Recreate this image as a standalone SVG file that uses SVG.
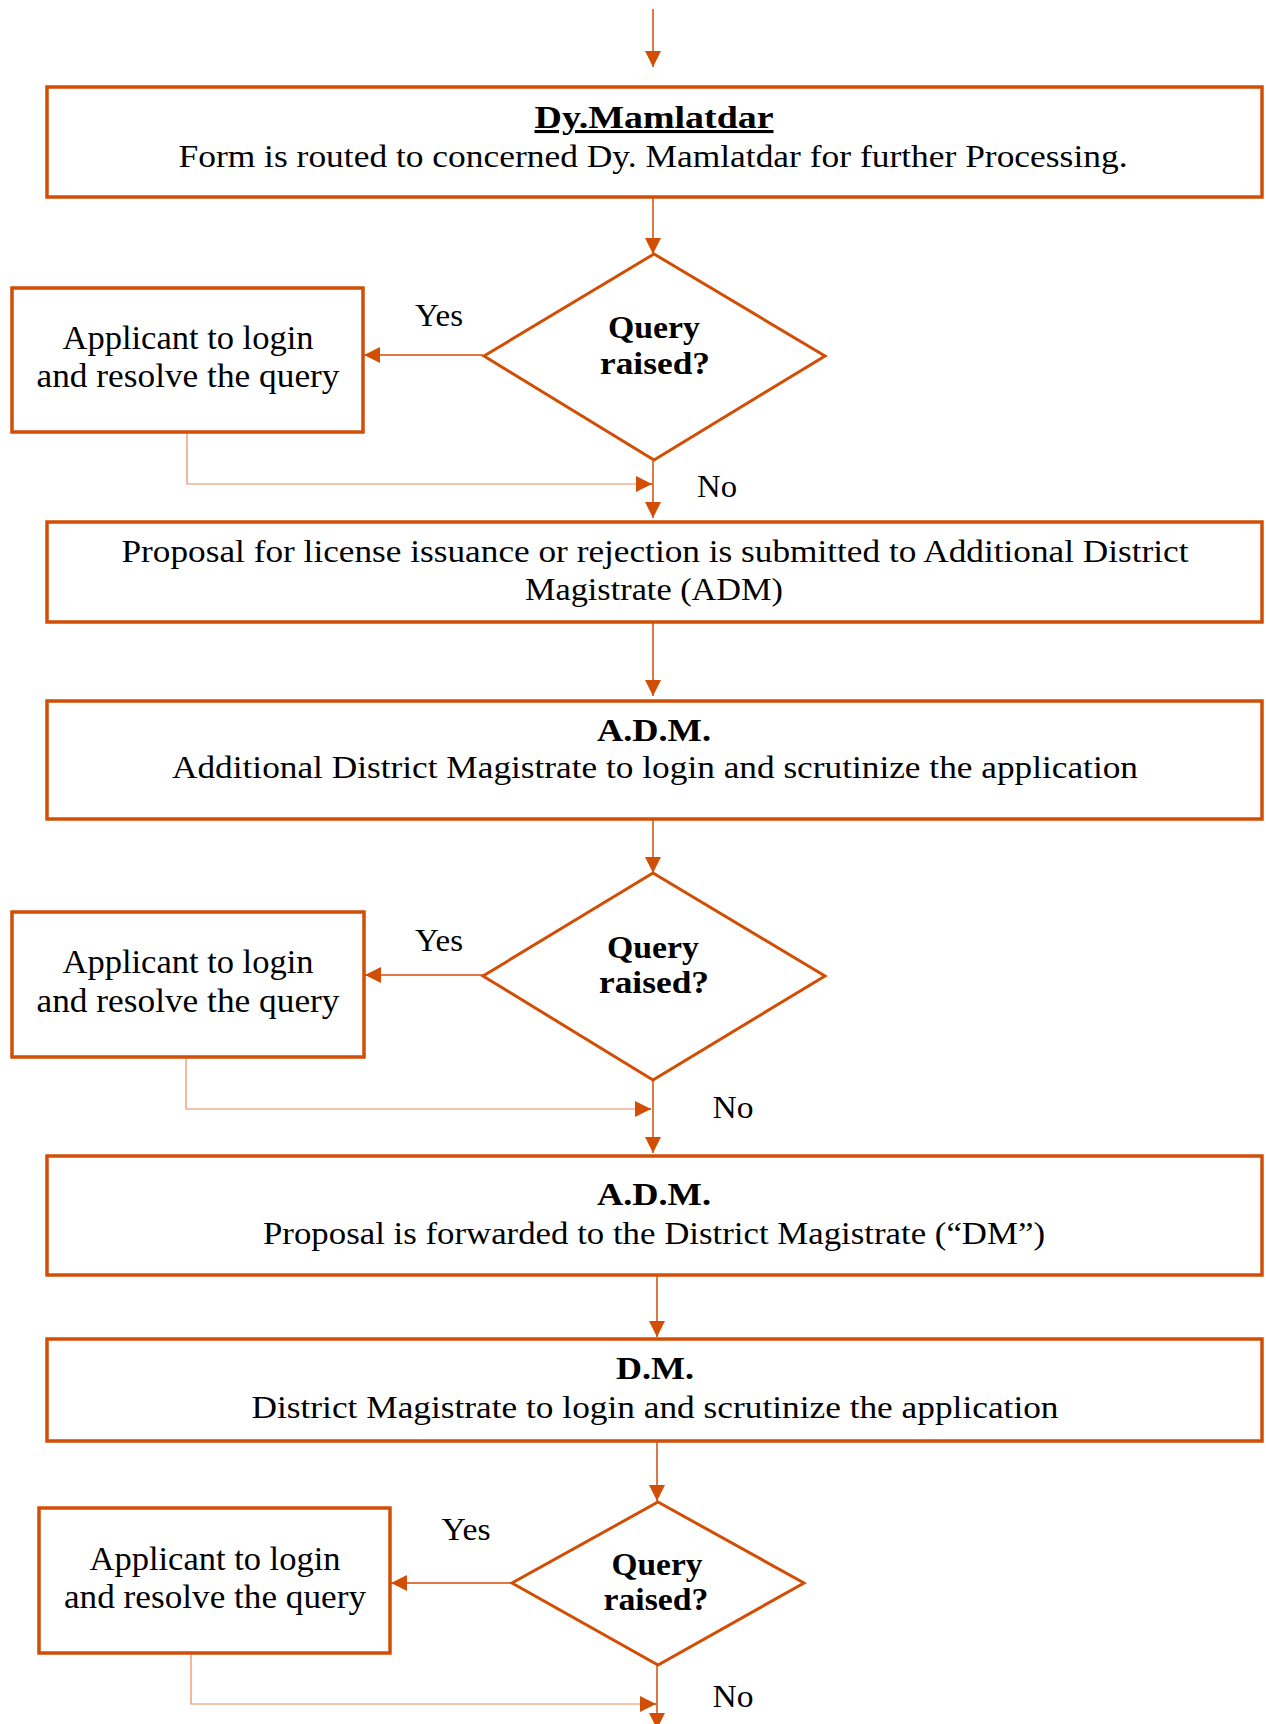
<svg xmlns="http://www.w3.org/2000/svg" width="1266" height="1724" viewBox="0 0 1266 1724">
<style>
.box{fill:#fff;stroke:#D24E04;stroke-width:3.5}
.dia{fill:#fff;stroke:#D24E04;stroke-width:3}
.ln{fill:none;stroke:#D24E04;stroke-width:1.5}
.fb{fill:none;stroke:#EC8A5E;stroke-width:1.2}
text{font-family:"Liberation Serif","DejaVu Serif",serif;fill:#000;text-anchor:middle}
.t{font-size:32px}
.b{font-size:31px;font-weight:bold}
.a{font-size:33px}
</style>
<defs>
<marker id="ah" markerUnits="userSpaceOnUse" markerWidth="16" markerHeight="16" viewBox="0 0 16 16" refX="16" refY="8" orient="auto">
<path d="M0,0 L16,8 L0,16 Z" fill="#D24E04"/>
</marker>
</defs>
<rect width="1266" height="1724" fill="#fff"/>
<g id="connectors">
<line class="ln" x1="653" y1="9" x2="653" y2="67" marker-end="url(#ah)"/>
<line class="ln" x1="653" y1="197" x2="653" y2="254"  marker-end="url(#ah)"/>
<line class="ln" x1="483" y1="355" x2="364" y2="355" marker-end="url(#ah)"/>
<polyline class="fb" points="187,432 187,484 652,484"/>
<line class="ln" x1="636" y1="484" x2="652" y2="484" marker-end="url(#ah)"/>
<line class="ln" x1="653" y1="461" x2="653" y2="518" marker-end="url(#ah)"/>
<line class="ln" x1="653" y1="623" x2="653" y2="696" marker-end="url(#ah)"/>
<line class="ln" x1="653" y1="820" x2="653" y2="873" marker-end="url(#ah)"/>
<line class="ln" x1="483" y1="975" x2="365" y2="975" marker-end="url(#ah)"/>
<polyline class="fb" points="186,1057 186,1109 651,1109"/>
<line class="ln" x1="635" y1="1109" x2="651" y2="1109" marker-end="url(#ah)"/>
<line class="ln" x1="653" y1="1080" x2="653" y2="1153" marker-end="url(#ah)"/>
<line class="ln" x1="657" y1="1276" x2="657" y2="1337" marker-end="url(#ah)"/>
<line class="ln" x1="657" y1="1441" x2="657" y2="1501" marker-end="url(#ah)"/>
<line class="ln" x1="512" y1="1583" x2="391" y2="1583" marker-end="url(#ah)"/>
<polyline class="fb" points="191,1653 191,1704 656,1704"/>
<line class="ln" x1="640" y1="1704" x2="656" y2="1704" marker-end="url(#ah)"/>
<line class="ln" x1="657" y1="1665" x2="657" y2="1729" marker-end="url(#ah)"/>
</g>
<g id="n1">
<rect class="box" x="47" y="87" width="1215" height="110"/>
<text class="b" x="654" y="128" textLength="239" lengthAdjust="spacingAndGlyphs" text-decoration="underline">Dy.Mamlatdar</text>
<text class="t" x="653" y="167" textLength="949" lengthAdjust="spacingAndGlyphs">Form is routed to concerned Dy. Mamlatdar for further Processing.</text>
</g>
<g id="d1">
<polygon class="dia" points="654,254 825,356 654,460 484,356"/>
<text class="b" x="654" y="338" textLength="92" lengthAdjust="spacingAndGlyphs">Query</text>
<text class="b" x="655" y="374" textLength="110" lengthAdjust="spacingAndGlyphs">raised?</text>
</g>
<g id="q1">
<rect class="box" x="12" y="288" width="351" height="144"/>
<text class="a" x="188" y="349" textLength="251" lengthAdjust="spacingAndGlyphs">Applicant to login</text>
<text class="a" x="188" y="387" textLength="303" lengthAdjust="spacingAndGlyphs">and resolve the query</text>
</g>
<text class="t" x="439" y="326" textLength="48" lengthAdjust="spacingAndGlyphs">Yes</text>
<text class="t" x="717" y="497" textLength="40" lengthAdjust="spacingAndGlyphs">No</text>
<g id="n2">
<rect class="box" x="47" y="522" width="1215" height="100"/>
<text class="t" x="655" y="562" textLength="1067" lengthAdjust="spacingAndGlyphs">Proposal for license issuance or rejection is submitted to Additional District</text>
<text class="t" x="654" y="600" textLength="258" lengthAdjust="spacingAndGlyphs">Magistrate (ADM)</text>
</g>
<g id="n3">
<rect class="box" x="47" y="701" width="1215" height="118"/>
<text class="b" x="654" y="741" textLength="114" lengthAdjust="spacingAndGlyphs">A.D.M.</text>
<text class="t" x="655" y="778" textLength="966" lengthAdjust="spacingAndGlyphs">Additional District Magistrate to login and scrutinize the application</text>
</g>
<g id="d2">
<polygon class="dia" points="653,873 825,976 653,1080 483,976"/>
<text class="b" x="653" y="958" textLength="92" lengthAdjust="spacingAndGlyphs">Query</text>
<text class="b" x="654" y="993" textLength="110" lengthAdjust="spacingAndGlyphs">raised?</text>
</g>
<g id="q2">
<rect class="box" x="12" y="912" width="352" height="145"/>
<text class="a" x="188" y="973" textLength="251" lengthAdjust="spacingAndGlyphs">Applicant to login</text>
<text class="a" x="188" y="1012" textLength="303" lengthAdjust="spacingAndGlyphs">and resolve the query</text>
</g>
<text class="t" x="439" y="951" textLength="48" lengthAdjust="spacingAndGlyphs">Yes</text>
<text class="t" x="733" y="1118" textLength="41" lengthAdjust="spacingAndGlyphs">No</text>
<g id="n4">
<rect class="box" x="47" y="1156" width="1215" height="119"/>
<text class="b" x="654" y="1205" textLength="114" lengthAdjust="spacingAndGlyphs">A.D.M.</text>
<text class="t" x="654" y="1244" textLength="782" lengthAdjust="spacingAndGlyphs">Proposal is forwarded to the District Magistrate (“DM”)</text>
</g>
<g id="n5">
<rect class="box" x="47" y="1339" width="1215" height="102"/>
<text class="b" x="655" y="1379" textLength="78" lengthAdjust="spacingAndGlyphs">D.M.</text>
<text class="t" x="655" y="1418" textLength="807" lengthAdjust="spacingAndGlyphs">District Magistrate to login and scrutinize the application</text>
</g>
<g id="d3">
<polygon class="dia" points="658,1502 804,1583 658,1665 512,1583"/>
<text class="b" x="657" y="1575" textLength="91" lengthAdjust="spacingAndGlyphs">Query</text>
<text class="b" x="656" y="1610" textLength="105" lengthAdjust="spacingAndGlyphs">raised?</text>
</g>
<g id="q3">
<rect class="box" x="39" y="1508" width="351" height="145"/>
<text class="a" x="215" y="1570" textLength="251" lengthAdjust="spacingAndGlyphs">Applicant to login</text>
<text class="a" x="215" y="1608" textLength="302" lengthAdjust="spacingAndGlyphs">and resolve the query</text>
</g>
<text class="t" x="466" y="1540" textLength="49" lengthAdjust="spacingAndGlyphs">Yes</text>
<text class="t" x="733" y="1707" textLength="41" lengthAdjust="spacingAndGlyphs">No</text>
</svg>
